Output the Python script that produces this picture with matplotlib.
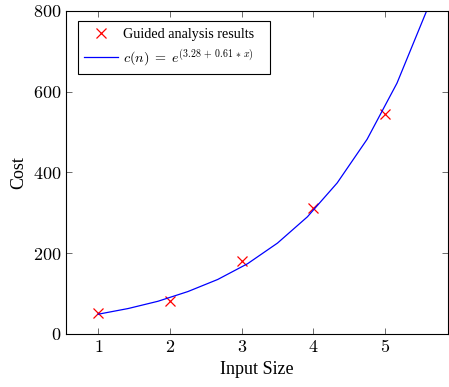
import matplotlib
matplotlib.use("Agg")
import matplotlib.pyplot as plt

# measured points (red crosses)
sizes = [1, 2, 3, 4, 5]
costs = [51, 82, 181, 311, 545]

# fitted curve
fit_x = [1.0, 1.417, 1.833, 2.25, 2.667, 3.083, 3.5, 3.917, 4.333, 4.75, 5.167, 5.583, 6.0]
fit_y = [49, 63, 81, 105, 135, 174, 225, 290, 374, 482, 621, 801, 1033]

xticks = [1, 2, 3, 4, 5]
yticks = [0, 200, 400, 600, 800]

plt.rcParams['font.family'] = 'serif'
plt.rcParams['font.serif'] = ['Liberation Serif', 'DejaVu Serif']
plt.rcParams['mathtext.fontset'] = 'cm'

fig = plt.figure(figsize=(4.49, 3.87), dpi=100)
ax = fig.add_axes([0.147, 0.137, 0.851, 0.835])

ax.plot(sizes, costs, 'x', color='red', markersize=7, mew=0.9, label='Guided analysis results')
ax.plot(fit_x, fit_y, '-', color='blue', lw=0.9,
        label=r'$c(n)\;=\;e^{(3.28\,+\,0.61\,*\,x)}$')

ax.set_xlim(0.55, 5.88)
ax.set_ylim(0, 800)
ax.set_xticks(xticks)
ax.set_yticks(yticks)
ax.set_xticklabels(['$%d$' % t for t in xticks], fontsize=13)
ax.set_yticklabels(['$%d$' % t for t in yticks], fontsize=13)
ax.tick_params(direction='in', top=True, right=True, length=4, width=0.6, color='#555555')
for s in ax.spines.values():
    s.set_linewidth(0.8)

ax.set_xlabel('Input Size', fontsize=13)
ax.set_ylabel('Cost', fontsize=13)

leg = ax.legend(loc='upper left', bbox_to_anchor=(0.031, 0.968, 0.503, 0.0), mode='expand',
                fontsize=10.2, fancybox=False, edgecolor='black',
                framealpha=1, borderaxespad=0, borderpad=0.45, handlelength=2.35,
                handletextpad=0.4, labelspacing=0.45)
leg.get_frame().set_linewidth(0.8)

fig.savefig('out.png', dpi=100)
